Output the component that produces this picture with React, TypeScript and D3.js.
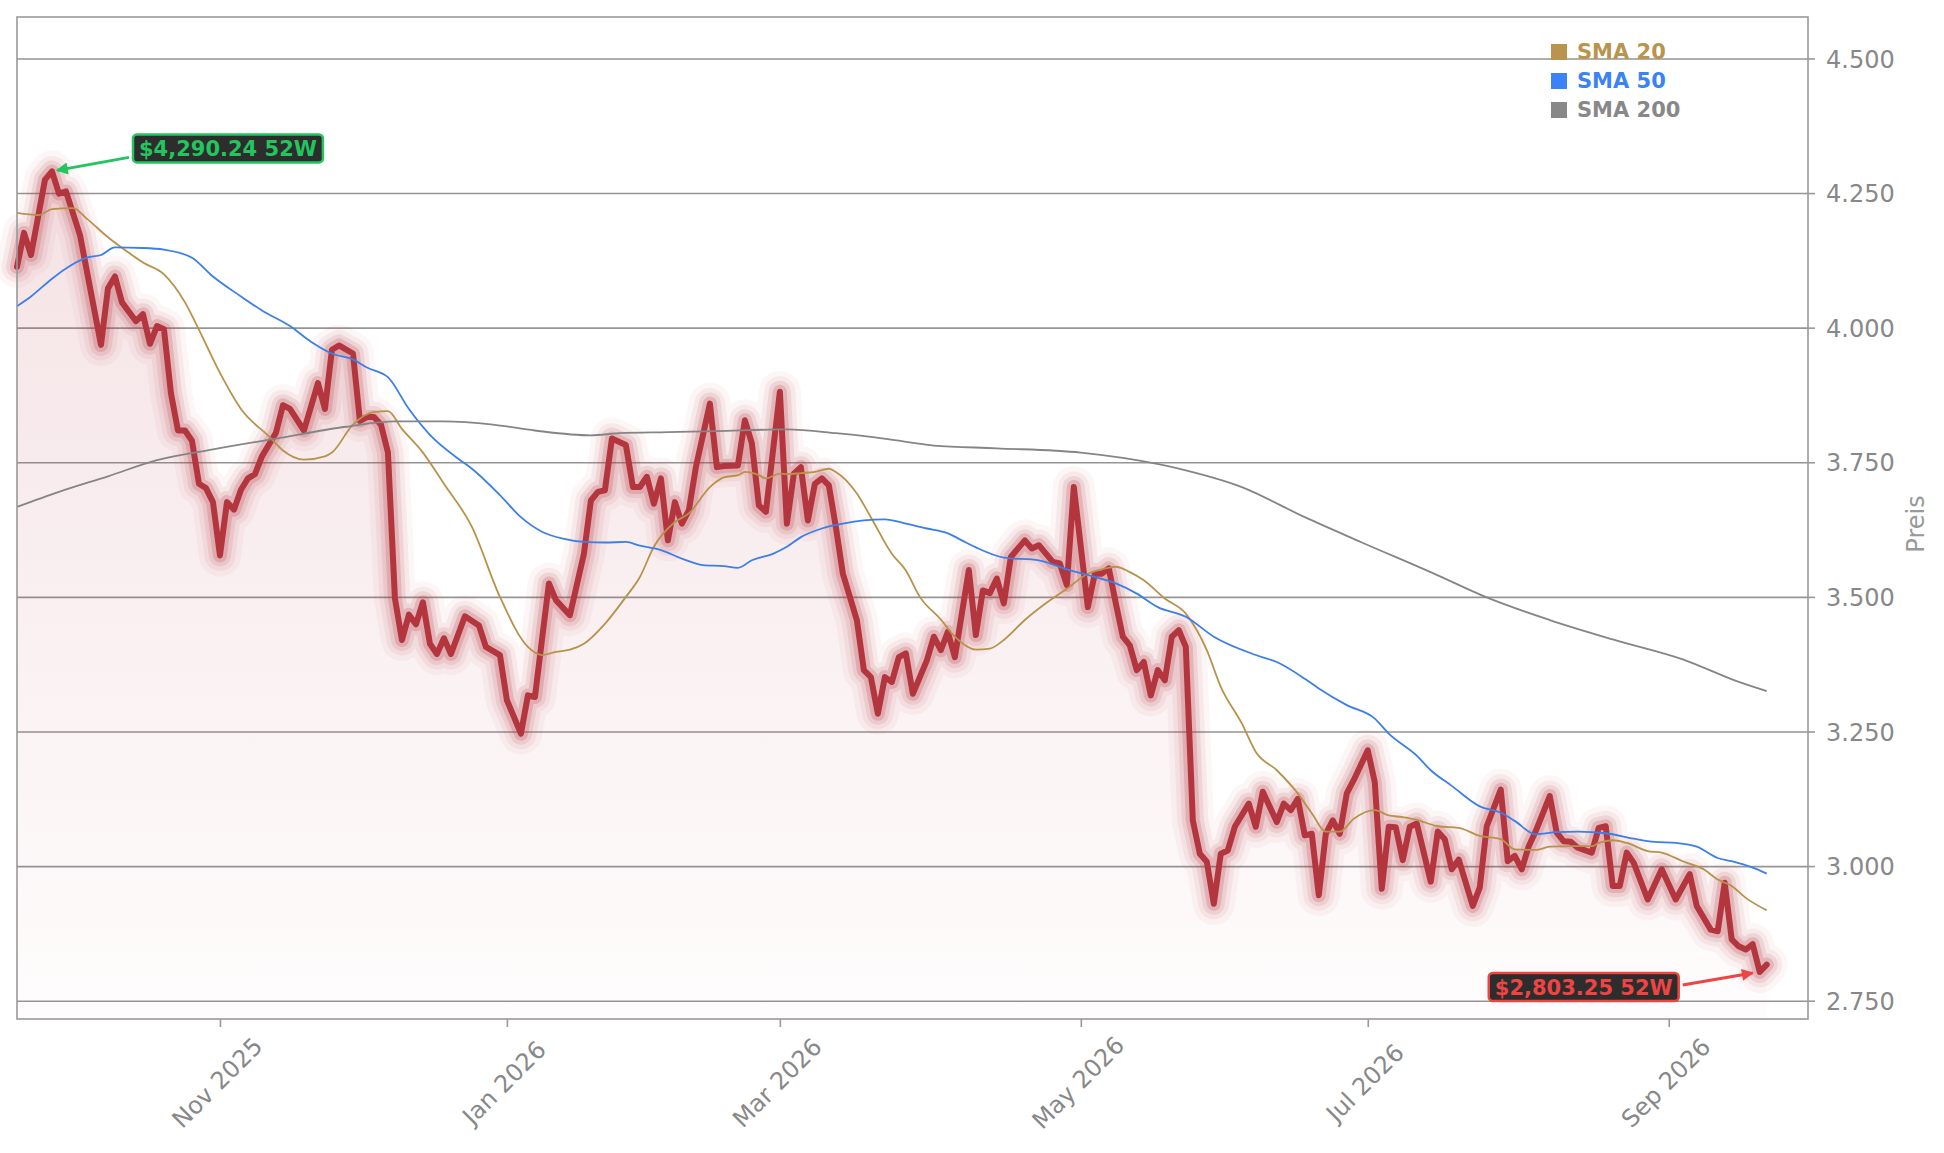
/**
 * 52-week price chart with SMA 20 / 50 / 200 overlays.
 */
import React, {useEffect, useRef} from 'react';
import * as d3 from 'd3';

const WIDTH = 1944;
const HEIGHT = 1153;

// Trading calendar: first session and the exchange holidays skipped
const START_DATE = new Date(2025, 8, 23);
const SESSION_COUNT = 251;
const HOLIDAYS = [
  '2025-11-27', '2025-12-25', '2026-01-01', '2026-01-19', '2026-02-16',
  '2026-04-03', '2026-05-25', '2026-06-19', '2026-07-03', '2026-09-07',
];
const TICK_MONTHS = ['2025-11', '2026-01', '2026-03', '2026-05', '2026-07', '2026-09'];
const Y_TICKS = [2750, 3000, 3250, 3500, 3750, 4000, 4250, 4500];
const Y_DOMAIN: [number, number] = [2716, 4577];

// [session index, close]
const PRICE: [number, number][] = [
  [0, 4113], [1, 4176], [2, 4135], [4, 4275], [5, 4290.24], [6, 4249], [7, 4253],
  [9, 4172], [12, 3968], [13, 4073], [14, 4095], [15, 4047], [17, 4012], [18, 4025],
  [19, 3970], [20, 4003], [21, 3997], [22, 3878], [23, 3809], [24, 3809], [25, 3790],
  [26, 3710], [27, 3702], [28, 3676], [29, 3577], [30, 3676], [31, 3662], [32, 3699],
  [33, 3720], [34, 3728], [35, 3761], [37, 3805], [38, 3856], [39, 3849], [41, 3809],
  [43, 3897], [44, 3849], [45, 3959], [46, 3967], [48, 3952], [49, 3827], [50, 3834],
  [51, 3834], [52, 3820], [53, 3768], [54, 3497], [55, 3420], [56, 3467], [57, 3449],
  [58, 3490], [59, 3413], [60, 3394], [61, 3423], [62, 3394], [64, 3464], [66, 3447],
  [67, 3407], [69, 3392], [70, 3308], [72, 3246], [73, 3317], [74, 3314], [76, 3525],
  [77, 3494], [79, 3466], [81, 3580], [82, 3679], [83, 3695], [84, 3698], [85, 3794],
  [87, 3782], [88, 3704], [89, 3704], [90, 3723], [91, 3673], [92, 3720], [93, 3605],
  [94, 3676], [95, 3636], [96, 3661], [97, 3741], [99, 3859], [100, 3741], [101, 3743],
  [103, 3744], [104, 3828], [105, 3785], [106, 3670], [107, 3658], [109, 3881], [110, 3636],
  [111, 3729], [112, 3741], [113, 3642], [114, 3710], [115, 3720], [116, 3707], [117, 3630],
  [118, 3543], [120, 3457], [121, 3364], [122, 3351], [123, 3283], [124, 3351], [125, 3342],
  [126, 3388], [127, 3395], [128, 3320], [130, 3382], [131, 3426], [132, 3401], [133, 3435],
  [134, 3388], [136, 3550], [137, 3429], [138, 3512], [139, 3507], [140, 3534], [141, 3488],
  [142, 3574], [144, 3605], [145, 3590], [146, 3596], [148, 3565], [149, 3562], [150, 3522],
  [151, 3704], [152, 3593], [153, 3481], [154, 3543], [155, 3543], [156, 3553], [157, 3488],
  [158, 3426], [159, 3410], [160, 3364], [161, 3379], [162, 3317], [163, 3364], [164, 3345],
  [165, 3426], [166, 3438], [167, 3407], [168, 3085], [169, 3023], [170, 3008], [171, 2930],
  [172, 3023], [173, 3029], [174, 3073], [176, 3116], [177, 3073], [178, 3138], [179, 3110],
  [180, 3082], [181, 3116], [182, 3104], [183, 3125], [184, 3057], [185, 3060], [186, 2946],
  [187, 3060], [188, 3085], [189, 3060], [190, 3135], [191, 3160], [193, 3215], [194, 3156],
  [195, 2958], [196, 3073], [197, 3072], [198, 3011], [199, 3073], [200, 3079], [202, 2971],
  [203, 3064], [204, 3050], [205, 2994], [206, 3012], [208, 2926], [209, 2960], [210, 3074],
  [212, 3142], [213, 3009], [214, 3019], [215, 2994], [216, 3037], [217, 3065], [219, 3130],
  [220, 3062], [221, 3046], [222, 3045], [223, 3034], [225, 3025], [226, 3071], [227, 3074],
  [228, 2963], [229, 2963], [230, 3025], [231, 3006], [233, 2938], [235, 2994], [237, 2938],
  [239, 2985], [240, 2926], [242, 2882], [243, 2879], [244, 2969], [245, 2864], [246, 2851],
  [247, 2845], [248, 2855], [249, 2803.25], [250, 2817],
];

const SMA20: [number, number][] = [
  [0, 4213], [3, 4209], [5, 4220], [8, 4222], [10, 4202], [13, 4168], [16, 4139], [18, 4121],
  [21, 4099], [24, 4047], [26, 3996], [29, 3916], [32, 3849], [36, 3798], [38, 3772],
  [41, 3755], [44, 3761], [45, 3768], [48, 3820], [51, 3843], [53, 3845], [55, 3812],
  [58, 3768], [61, 3710], [65, 3630], [69, 3500], [73, 3407], [75, 3392], [77, 3398],
  [79, 3402], [81, 3413], [84, 3450], [87, 3500], [89, 3537], [91, 3593], [94, 3639],
  [96, 3655], [99, 3704], [101, 3722], [103, 3726], [104, 3732], [106, 3726], [107, 3720],
  [109, 3729], [110, 3728], [112, 3730], [114, 3732], [116, 3738], [117, 3732], [120, 3692],
  [122, 3648], [125, 3580], [127, 3549], [129, 3500], [132, 3458], [134, 3426], [137, 3402],
  [139, 3404], [141, 3420], [144, 3457], [147, 3488], [150, 3515], [153, 3543], [155, 3551],
  [157, 3556], [159, 3546], [161, 3531], [164, 3497], [167, 3469], [170, 3401], [172, 3333],
  [175, 3265], [177, 3212], [180, 3178], [183, 3135], [185, 3098], [187, 3064], [189, 3064],
  [191, 3088], [194, 3104], [196, 3094], [198, 3091], [200, 3086], [203, 3074], [206, 3071],
  [209, 3056], [212, 3050], [214, 3031], [217, 3030], [219, 3036], [222, 3037], [225, 3037],
  [226, 3043], [228, 3048], [230, 3043], [233, 3028], [235, 3025], [238, 3009], [241, 2994],
  [243, 2975], [245, 2963], [247, 2941], [250, 2918],
];

const SMA50: [number, number][] = [
  [0, 4040], [2, 4058], [5, 4091], [7, 4110], [10, 4130], [12, 4135], [14, 4149], [18, 4148],
  [21, 4145], [25, 4130], [28, 4095], [32, 4058], [35, 4032], [39, 4003], [42, 3974],
  [45, 3952], [48, 3941], [50, 3926], [53, 3908], [56, 3849], [59, 3801], [63, 3757],
  [65, 3738], [69, 3689], [72, 3648], [75, 3621], [78, 3608], [81, 3602], [84, 3601],
  [87, 3602], [89, 3595], [92, 3587], [95, 3571], [98, 3559], [101, 3557], [103, 3554],
  [105, 3568], [108, 3580], [110, 3593], [112, 3611], [115, 3627], [118, 3636], [121, 3642],
  [124, 3644], [127, 3636], [130, 3627], [133, 3618], [135, 3605], [137, 3592], [141, 3573],
  [146, 3568], [150, 3551], [154, 3537], [157, 3525], [160, 3506], [163, 3481], [167, 3463],
  [171, 3426], [177, 3392], [180, 3379], [184, 3348], [186, 3330], [190, 3299], [194, 3274],
  [196, 3246], [200, 3205], [202, 3178], [205, 3149], [209, 3111], [212, 3099], [214, 3084],
  [217, 3059], [220, 3063], [223, 3064], [227, 3061], [231, 3051], [234, 3045], [237, 3043],
  [240, 3036], [243, 3015], [245, 3009], [248, 2997], [250, 2986],
];

const SMA200: [number, number][] = [
  [0, 3667], [6, 3695], [13, 3724], [20, 3754], [28, 3774], [37, 3794], [47, 3816],
  [54, 3826], [61, 3826], [68, 3820], [74, 3809], [82, 3800], [86, 3804], [93, 3806],
  [100, 3808], [110, 3811], [117, 3804], [122, 3797], [127, 3788], [131, 3781], [140, 3776],
  [152, 3768], [158, 3758], [167, 3735], [175, 3704], [184, 3648], [192, 3602], [203, 3540],
  [210, 3499], [219, 3457], [228, 3421], [238, 3384], [246, 3342], [250, 3325],
];

const SMA_NAMES = ['SMA 20', 'SMA 50', 'SMA 200'];
const SMA_COLORS = ['#b8924a', '#3b7fe8', '#858585'];
const LEGEND_COLORS = ['#b8944c', '#3b82f6', '#888888'];

const PRICE_COLOR = '#b3363f';
const FONT = '"DejaVu Sans", sans-serif';

/** Builds the list of trading sessions (weekdays minus holidays). */
const buildSessions = (): Date[] => {
  const iso = d3.timeFormat('%Y-%m-%d');
  const skip = new Set(HOLIDAYS);
  const out: Date[] = [];
  const d = new Date(START_DATE);
  while (out.length < SESSION_COUNT) {
    const wd = d.getDay();
    if (wd !== 0 && wd !== 6 && !skip.has(iso(d))) out.push(new Date(d));
    d.setDate(d.getDate() + 1);
  }
  return out;
};

export default function App() {
  const svgRef = useRef<SVGSVGElement>(null);

  useEffect(() => {
    if (!svgRef.current) return;
    const root = d3.select(svgRef.current);
    root.selectAll('*').remove();

    const margin = {top: 17, right: 136, bottom: 134, left: 17};
    const width = WIDTH - margin.left - margin.right;
    const height = HEIGHT - margin.top - margin.bottom;

    const sessions = buildSessions();
    const monthKey = d3.timeFormat('%Y-%m');
    const tickIdx = TICK_MONTHS.map((m) => sessions.findIndex((s) => monthKey(s) >= m));

    // Scales
    const x = d3
      .scaleLinear()
      .domain([0, SESSION_COUNT - 1 + 5.9])
      .range([0, width]);
    const y = d3.scaleLinear().domain(Y_DOMAIN).range([height, 0]);

    const de = d3.formatLocale({
      decimal: ',',
      thousands: '.',
      grouping: [3],
      currency: ['', ' €'],
    });
    const yFmt = de.format(',');
    const usd = d3.format('$,.2f');
    const monthFmt = d3.timeFormat('%b %Y');

    const svg = root
      .append('g')
      .attr('transform', `translate(${margin.left},${margin.top})`);

    const defs = svg.append('defs');

    // Area gradient
    const hi = PRICE.reduce((a, b) => (b[1] > a[1] ? b : a));
    const lo = PRICE.reduce((a, b) => (b[1] < a[1] ? b : a));

    const gradient = defs
      .append('linearGradient')
      .attr('id', 'price-fill')
      .attr('gradientUnits', 'userSpaceOnUse')
      .attr('x1', 0)
      .attr('y1', y(hi[1]))
      .attr('x2', 0)
      .attr('y2', height);
    gradient
      .append('stop')
      .attr('offset', '0%')
      .attr('stop-color', '#b22234')
      .attr('stop-opacity', 0.13);
    gradient
      .append('stop')
      .attr('offset', '100%')
      .attr('stop-color', '#b22234')
      .attr('stop-opacity', 0.012);

    const arrow = (id: string, color: string) =>
      defs
        .append('marker')
        .attr('id', id)
        .attr('viewBox', '0 0 10 10')
        .attr('refX', 9)
        .attr('refY', 5)
        .attr('markerUnits', 'userSpaceOnUse')
        .attr('markerWidth', 14)
        .attr('markerHeight', 12)
        .attr('orient', 'auto')
        .append('path')
        .attr('d', 'M0,0L10,5L0,10z')
        .attr('fill', color);
    arrow('arrow-hi', '#22c55e');
    arrow('arrow-lo', '#ef4444');

    // Grid lines
    svg
      .append('g')
      .call(
        d3
          .axisLeft(y)
          .tickValues(Y_TICKS)
          .tickSize(-width)
          .tickFormat(() => ''),
      )
      .call((g) => g.select('.domain').remove())
      .call((g) => g.selectAll('line').attr('stroke', '#959595').attr('stroke-width', 1.6));

    // Area under price
    const area = d3
      .area<[number, number]>()
      .x((d) => x(d[0]))
      .y0(height)
      .y1((d) => y(d[1]));
    svg.append('path').datum(PRICE).attr('fill', 'url(#price-fill)').attr('d', area);

    // Price line with glow
    const line = d3
      .line<[number, number]>()
      .x((d) => x(d[0]))
      .y((d) => y(d[1]));

    const glow: [number, number][] = [
      [42, 0.045],
      [31, 0.07],
      [22, 0.11],
      [14, 0.2],
    ];
    glow.forEach(([w, o]) => {
      svg
        .append('path')
        .datum(PRICE)
        .attr('fill', 'none')
        .attr('stroke', PRICE_COLOR)
        .attr('stroke-opacity', o)
        .attr('stroke-width', w)
        .attr('stroke-linejoin', 'round')
        .attr('stroke-linecap', 'round')
        .attr('d', line);
    });
    svg
      .append('path')
      .datum(PRICE)
      .attr('fill', 'none')
      .attr('stroke', PRICE_COLOR)
      .attr('stroke-width', 6)
      .attr('stroke-linejoin', 'round')
      .attr('stroke-linecap', 'round')
      .attr('d', line);

    // Moving averages
    const smaLine = d3
      .line<[number, number]>()
      .x((d) => x(d[0]))
      .y((d) => y(d[1]))
      .curve(d3.curveMonotoneX);
    [SMA20, SMA50, SMA200].forEach((data, i) => {
      svg
        .append('path')
        .datum(data)
        .attr('fill', 'none')
        .attr('stroke', SMA_COLORS[i])
        .attr('stroke-width', 1.8)
        .attr('d', smaLine);
    });

    // Axes
    svg
      .append('g')
      .attr('transform', `translate(${width},0)`)
      .call(
        d3
          .axisRight(y)
          .tickValues(Y_TICKS)
          .tickSize(7)
          .tickPadding(11)
          .tickFormat((d) => yFmt(d as number)),
      )
      .call((g) => g.select('.domain').remove())
      .call((g) => g.selectAll('line').attr('stroke', '#999').attr('stroke-width', 1.6))
      .call((g) =>
        g
          .selectAll('text')
          .attr('fill', '#888')
          .attr('dy', '0.36em')
          .style('font-family', FONT)
          .style('font-size', '24px'),
      );

    svg
      .append('g')
      .attr('transform', `translate(0,${height})`)
      .call(
        d3
          .axisBottom(x)
          .tickValues(tickIdx)
          .tickSize(8)
          .tickFormat((d) => monthFmt(sessions[d as number])),
      )
      .call((g) => g.select('.domain').remove())
      .call((g) => g.selectAll('line').attr('stroke', '#999').attr('stroke-width', 1.6))
      .call((g) =>
        g
          .selectAll('text')
          .attr('fill', '#888')
          .attr('x', 0)
          .attr('y', 0)
          .attr('dy', null)
          .attr('text-anchor', 'middle')
          .attr('dominant-baseline', 'central')
          .attr('transform', 'translate(-3,64) rotate(-45)')
          .style('font-family', FONT)
          .style('font-size', '24px'),
      );

    // Plot frame
    svg
      .append('rect')
      .attr('width', width)
      .attr('height', height)
      .attr('fill', 'none')
      .attr('stroke', '#999')
      .attr('stroke-width', 1.6);

    // 52-week high / low callouts
    const callout = (
      pt: [number, number],
      color: string,
      marker: string,
      side: 'right' | 'left',
    ) => {
      const px = x(pt[0]);
      const py = y(pt[1]);
      const label = svg.append('g');
      const txt = label
        .append('text')
        .text(`${usd(pt[1])} 52W`)
        .attr('fill', color)
        .attr('font-weight', 'bold')
        .attr('text-anchor', 'middle')
        .attr('dominant-baseline', 'central')
        .style('font-family', FONT)
        .style('font-size', '21px');
      const tw = (txt.node() as SVGTextElement).getComputedTextLength();
      const bw = tw + 12;
      const bh = 28;
      const bx = side === 'right' ? px + 81 : px - 81 - bw;
      const by = side === 'right' ? py - 37 : py + 1;
      label
        .insert('rect', 'text')
        .attr('x', bx)
        .attr('y', by)
        .attr('width', bw)
        .attr('height', bh)
        .attr('rx', 4)
        .attr('fill', '#2d2d2d')
        .attr('stroke', color)
        .attr('stroke-width', 2.5);
      txt.attr('x', bx + bw / 2).attr('y', by + bh / 2 + 1);

      const from = side === 'right' ? [bx - 4, py - 14] : [bx + bw + 4, py + 13];
      const to = side === 'right' ? [px + 5, py - 1] : [px - 7, py + 1];
      svg
        .append('line')
        .attr('x1', from[0])
        .attr('y1', from[1])
        .attr('x2', to[0])
        .attr('y2', to[1])
        .attr('stroke', color)
        .attr('stroke-width', 3)
        .attr('marker-end', `url(#${marker})`);
    };
    callout(hi, '#22c55e', 'arrow-hi', 'right');
    callout(lo, '#ef4444', 'arrow-lo', 'left');

    // Legend
    const legend = svg.append('g').attr('transform', `translate(${width - 257},27)`);
    SMA_NAMES.forEach((name, i) => {
      const row = legend.append('g').attr('transform', `translate(0,${i * 29})`);
      row.append('rect').attr('width', 16).attr('height', 16).attr('fill', LEGEND_COLORS[i]);
      row
        .append('text')
        .attr('x', 26)
        .attr('y', 8)
        .attr('dominant-baseline', 'central')
        .attr('fill', LEGEND_COLORS[i])
        .attr('font-weight', 'bold')
        .style('font-family', FONT)
        .style('font-size', '21px')
        .text(name);
    });

    // Axis title
    root
      .append('text')
      .attr('transform', `translate(1916,${margin.top + height / 2 + 6}) rotate(-90)`)
      .attr('text-anchor', 'middle')
      .attr('dominant-baseline', 'central')
      .attr('fill', '#999')
      .style('font-family', FONT)
      .style('font-size', '24px')
      .text('Preis');
  }, []);

  return (
    <svg
      ref={svgRef}
      width={WIDTH}
      height={HEIGHT}
      style={{position: 'absolute', left: 0, top: 0, background: '#fff'}}
    />
  );
}
